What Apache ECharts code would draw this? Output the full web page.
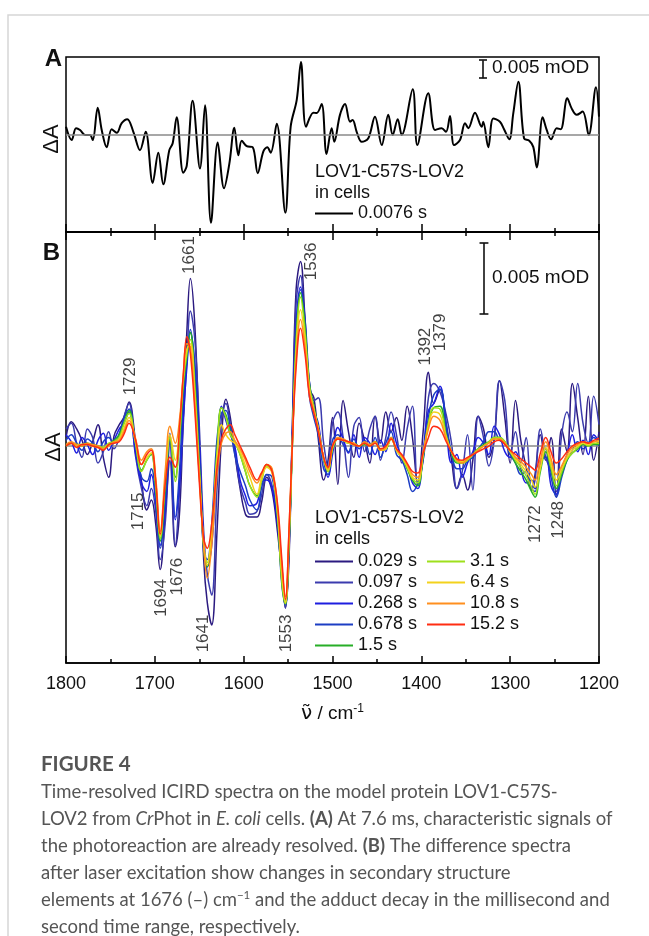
<!DOCTYPE html>
<html><head><meta charset="utf-8">
<script src="https://cdn.jsdelivr.net/npm/echarts@6/dist/echarts.min.js"></script>
<style>html,body{margin:0;padding:0;background:#fff}#c{width:649px;height:936px}</style>
</head><body><div id="c"></div>
<script>
// ---------- Panel A: 0.0076 s ----------
const wnA = [1800,1793.6,1788.7,1784.2,1778.6,1773,1769.9,1764.3,1759.8,1754.2,
1748.6,1742.9,1737.3,1731,1724.2,1716.7,1710.3,1702.4,1696.1,1690.5,
1683.7,1679.9,1675.4,1668,1664.1,1657.4,1649.2,1643.5,1636.8,1629.2,
1622.1,1616.2,1610.5,1606,1602.2,1596.6,1589.8,1584.2,1577.9,1573.4,
1569.6,1562.8,1553.1,1547.1,1540.3,1535.5,1529.8,1521.6,1517.8,1512.2,
1506.7,1500.9,1498,1491.6,1485.9,1480.3,1477.3,1472.8,1467.1,1459.7,
1452.2,1444.6,1437.2,1432.2,1426.6,1422.1,1409.7,1404.5,1392.2,1384.6,
1377.1,1372.2,1367.7,1363.2,1356.5,1350.8,1347.1,1339.6,1332,1330.3,
1324.6,1319,1311.5,1306.9,1301,1296.5,1290.8,1284.4,1278.5,1274,
1270.1,1263.4,1258.9,1254,1247.6,1243.1,1235.7,1230.8,1225.1,1218.4,
1211.6,1203.4,1200];
const dA = [2.3,-1.4,1.9,1.4,0,0,-1.4,7.6,1.4,-3.4,
1.6,0.6,3.3,4.4,0.9,-4.2,0.9,-13.3,-4.9,-13.7,
-4.2,-2.3,4.9,-10.5,-8.6,9.5,-9.3,8.3,-24.4,-2.1,
-14.8,-8.1,2,-5.6,-1.6,-3.1,-3.4,-10.6,-4.6,-3.4,
-4.9,3.1,-21.6,2.3,9.7,20.3,2.3,6.2,6.1,8.6,
-5.3,1.9,-1.9,5.6,8.6,3.7,4.2,0.9,-1.9,-0.9,
5.1,-2.8,5.6,0,4.4,0,12.7,-2.8,11.6,1.4,
1.9,0.9,5.3,-2.8,-1.4,3.3,1.9,6.2,2.3,3.7,
-3.4,4.6,3.7,1.6,-1.2,6,14.8,-0.9,-1.6,-3.3,
-9,4.9,1.4,-1.2,1.9,1.6,10.2,7.4,5.6,6.5,
0,13.3,5.1];

// ---------- Panel B: time series ----------
const wnB = [1800,1794,1788,1782,1776,1770,1764,1758,1752,1746,
1740,1735,1729,1722,1715,1709,1704,1699,1694,1688,
1683,1677,1672,1668,1664,1660,1655,1650,1645,1641,
1636,1630,1625,1620,1615,1610,1604,1598,1593,1585,
1580,1574,1568,1562,1557,1553,1549,1545,1541,1536,
1531,1526,1521,1516,1510,1505,1500,1494,1488,1482,
1476,1470,1464,1458,1452,1446,1440,1434,1428,1422,
1416,1410,1404,1398,1392,1386,1379,1372,1366,1360,
1354,1348,1342,1336,1330,1324,1318,1312,1306,1300,
1294,1288,1282,1276,1272,1266,1260,1254,1248,1242,
1236,1230,1224,1218,1212,1206,1200];

const t0029 = [0.6,1.7,1.2,0.4,-0.6,0.3,1.5,-0.8,-2.2,0.7,
1.5,2.0,3.1,0.5,-2.5,-4.5,-3.8,-5.5,-8.7,-4.5,
-1.0,-7.1,-4.5,2.0,8.0,11.8,8.5,0.5,-8.0,-11.0,
-12.6,-6.0,0.5,3.3,2.0,-0.5,-3.0,-4.8,-5.0,-5.0,
-4.0,-2.2,-3.2,-6.0,-9.0,-11.4,-8.0,2.0,11.0,13.0,
9.0,4.0,3.4,0.5,-2.4,-1.0,2.0,-2.7,3.2,1.0,
-0.8,1.6,0.4,-1.2,2.1,0.2,2.4,1.0,2.0,0.4,
2.8,0.6,-2.7,1.0,5.2,3.0,4.0,1.5,-1.0,-3.0,
-2.0,-3.1,-1.0,2.1,1.2,-0.8,0.5,4.6,2.0,-1.2,
3.2,0.4,-1.5,-3.1,-2.0,0.8,-1.0,0.6,-3.6,1.2,
-0.4,4.4,2.0,-0.6,3.5,-1.0,1.0];
const t0097 = [1.2,1.6,0.2,-0.8,1.2,0.6,-1.2,-0.4,1.0,-0.2,
0.6,2.0,3.0,-0.6,-3.0,-4.2,-3.0,-4.6,-8.0,-5.2,
0.4,-7.0,-3.0,1.5,6.0,9.5,7.5,1.5,-6.0,-9.0,
-10.5,-3.0,2.0,3.0,1.5,-0.4,-2.8,-4.0,-4.8,-4.6,
-3.5,-2.0,-2.8,-5.0,-8.5,-11.4,-7.5,1.5,10.0,12.0,
8.0,4.5,3.2,3.4,0.2,-1.5,1.6,2.4,0.6,-2.2,
1.4,2.0,-0.4,1.2,2.1,-1.0,0.6,2.4,0.8,-1.2,
1.2,2.8,-2.7,-1.0,3.4,4.4,3.8,2.2,0.2,-3.0,
-1.8,0.8,-3.1,2.1,0.6,-1.4,0.4,4.6,3.2,-0.6,
1.0,-1.2,0.6,-3.1,-2.4,1.2,-0.8,-1.8,-3.2,0.8,
2.4,1.0,4.4,1.6,0.2,3.5,1.5];
const t0268 = [0.8,0.3,-0.5,0.6,0.1,-0.6,0.4,0.9,-0.3,0.4,
1.2,1.6,2.4,-0.4,-2.6,-3.2,-2.0,-4.0,-7.0,-4.2,
0.6,-5.2,-2.5,2.0,5.5,8.0,5.8,0.5,-6.8,-8.5,
-7.0,-1.5,2.8,1.8,0.8,0.0,-2.4,-3.5,-4.2,-4.0,
-2.6,-2.4,-3.0,-5.5,-9.0,-11.0,-7.0,1.0,8.5,11.2,
9.0,4.5,2.5,1.6,-1.0,-2.2,-0.6,1.3,0.5,-0.5,
0.8,-0.8,0.6,0.2,-0.6,0.4,-0.4,1.6,0.2,-0.8,
-1.4,-2.6,-3.0,-0.4,2.5,3.0,4.2,1.2,-1.2,-0.6,
-2.2,-1.2,-0.4,0.6,0.2,-0.6,1.4,0.8,-0.4,-0.8,
-0.4,-1.6,-2.6,-2.4,-3.0,-1.4,-0.2,-2.8,-3.4,-1.6,
-0.6,0.8,-0.4,0.4,-0.6,0.8,0.3];
const t0678 = [0.4,0.8,0.2,-0.3,0.5,0.2,-0.4,0.3,0.6,0.2,
0.9,1.9,2.6,0.2,-2.2,-2.5,-1.6,-3.5,-7.2,-3.5,
0.9,-5.0,-1.5,3.5,6.0,8.2,5.5,-0.5,-7.5,-8.0,
-5.5,0.5,2.3,2.5,1.2,-0.6,-1.8,-2.8,-3.8,-4.5,
-3.0,-2.0,-2.2,-5.0,-9.8,-11.2,-6.8,0.8,8.0,11.0,
8.6,3.5,2.0,0.8,-1.6,-2.0,0.4,0.8,0.1,-0.4,
0.5,-0.2,0.4,-0.6,0.6,-0.8,0.2,1.0,-0.6,-1.0,
-2.0,-3.2,-2.6,-1.0,2.0,3.6,4.0,1.6,-0.5,-1.6,
-1.6,-1.0,-0.8,-0.2,0.3,1.0,1.0,0.4,0.2,-0.6,
-1.2,-2.0,-1.8,-3.0,-3.2,-1.0,-0.8,-2.2,-3.6,-2.2,
-1.0,-0.3,0.3,-0.2,0.2,0.6,0.0];
const t15 = [0,0.2,0.1,0,0.2,0.1,0,-0.2,0.1,0.4,
0.8,1.6,2.5,0.3,-1.7,-1.0,-0.6,-3.0,-6.7,-2.8,
0.6,-2.2,0.5,4.2,6.3,8.0,4.5,-1.2,-7.2,-8.5,
-6.2,-0.3,2.7,2.2,1.0,0.3,-0.6,-1.8,-2.8,-3.5,
-2.4,-1.3,-1.7,-4.8,-9.6,-11.1,-7.0,0.3,7.5,10.8,
8.5,4.4,2.8,1.3,-0.9,-1.8,-0.3,0.5,0.4,0.2,
0.2,0,0.1,0.1,0.3,-0.2,-0.2,0.6,-0.3,-0.8,
-1.6,-2.4,-2.8,-0.8,1.6,2.7,2.8,0.8,-0.5,-1.2,
-1.2,-1.0,-0.6,-0.2,0.1,0.3,0.6,0.6,0.3,-0.4,
-1.2,-1.8,-2.4,-3.2,-3.6,-1.8,-0.4,-1.6,-3.0,-2.0,
-1.0,-0.5,-0.2,0.1,0,0.1,0.1];
const t31 = [0.1,0.2,0.1,0.1,0.2,0,0,-0.1,0.2,0.3,
0.6,1.5,2.3,0.3,-1.8,-1.0,-0.5,-2.8,-6.5,-2.2,
0.6,-2.5,0.8,4.5,6.5,7.5,4.0,-1.5,-7.0,-8.2,
-6.0,-0.5,2.7,2.0,0.8,0.3,-0.6,-1.8,-2.8,-3.6,
-2.5,-1.4,-1.8,-4.8,-9.5,-11.1,-6.8,0.5,7.0,10.5,
8.0,4.2,2.6,1.2,-0.9,-1.8,-0.2,0.5,0.4,0.2,
0.1,0,0.2,0,0.3,-0.3,-0.2,0.5,-0.3,-0.8,
-1.5,-2.3,-2.6,-0.6,1.6,2.7,2.6,0.7,-0.4,-1.1,
-1.2,-1.0,-0.6,-0.2,0,0.3,0.6,0.6,0.3,-0.4,
-1.0,-1.5,-2.1,-2.9,-3.4,-1.6,-0.2,-1.5,-2.8,-1.8,
-0.9,-0.5,-0.1,0.2,0,0.2,0.2];
const t64 = [0,0.2,0,0.1,0.1,0,-0.1,-0.2,0.1,0.2,
0.5,1.2,2.0,0.4,-1.3,-0.8,-0.5,-2.5,-6.3,-2.0,
0.8,-1.0,1.5,4.8,6.8,7.2,3.5,-2.0,-6.8,-8.4,
-6.0,-1.0,1.5,0.8,0.4,0.2,-0.4,-1.4,-2.2,-3.4,
-2.3,-1.5,-1.9,-4.5,-9.0,-11.0,-6.5,0.5,6.5,9.6,
7.5,4.0,2.6,1.2,-0.8,-1.7,-0.1,0.5,0.4,0.2,
0.1,0,0.2,0,0.2,-0.3,-0.2,0.5,-0.3,-0.8,
-1.4,-2.2,-2.4,-0.6,1.4,2.4,2.2,0.6,-0.4,-1.0,
-1.1,-0.9,-0.6,-0.3,0,0.2,0.5,0.5,0.2,-0.4,
-0.9,-1.3,-1.8,-2.4,-2.9,-1.5,-0.1,-1.2,-2.4,-1.6,
-0.8,-0.3,0,0.2,0.1,0.3,0.3];
const t108 = [0.1,0.3,0.1,0,0.2,0.1,0,-0.2,0,0.3,
0.4,1.0,1.8,0.6,-1.0,-0.4,-0.2,-2.2,-6.0,-1.5,
1.4,0.2,2.0,5.0,7.2,7.0,3.0,-2.0,-7.0,-9.3,
-7.0,-2.0,0.2,0.9,1.0,0.4,-0.2,-1.0,-1.8,-2.6,
-2.0,-1.3,-1.6,-4.2,-8.5,-10.6,-6.0,0.5,6.0,8.9,
7.0,3.8,2.5,1.2,-0.8,-1.6,0,0.6,0.5,0.3,
0.2,0,0.3,0.1,0.3,-0.3,-0.1,0.6,-0.2,-0.7,
-1.3,-2.0,-2.2,-0.4,1.2,2.1,1.8,0.5,-0.4,-1.0,
-1.2,-0.9,-0.6,-0.3,0,0.2,0.5,0.5,0.2,-0.3,
-0.8,-1.1,-1.5,-2.0,-2.4,-1.0,0.3,-0.9,-2.0,-1.4,
-0.6,-0.1,0.1,0.3,0.2,0.3,0.4];
const t152 = [0,0.2,-0.1,0.1,0.1,0,-0.1,-0.3,0.1,0.2,
0.3,0.8,1.6,0.5,-1.3,-0.6,-0.3,-2.5,-6.2,-2.5,
-0.8,-1.5,1.5,5.0,7.7,6.5,2.5,-2.5,-6.5,-7.2,
-5.5,-1.5,0.5,1.2,1.5,0.8,0,-0.8,-1.5,-2.4,
-1.9,-1.3,-1.8,-4.0,-8.0,-10.8,-6.0,0.5,5.5,8.3,
6.5,3.5,2.3,1.0,-0.8,-1.5,0,0.5,0.4,0.3,
0.1,0,0.2,0,0.2,-0.2,0,0.5,-0.2,-0.6,
-1.2,-1.8,-1.9,-0.5,0.6,1.4,1.2,0.3,-0.4,-0.9,
-1.0,-0.8,-0.6,-0.4,-0.2,0,0.3,0.4,0.1,-0.3,
-0.6,-0.9,-1.2,-1.5,-1.7,-0.5,0.6,-0.4,-1.2,-0.9,
-0.4,0,0.2,0.3,0.2,0.4,0.55];

const namesB = ['0.029 s','0.097 s','0.268 s','0.678 s','1.5 s','3.1 s','6.4 s','10.8 s','15.2 s'];
const valuesB = [t0029,t0097,t0268,t0678,t15,t31,t64,t108,t152];
const colorsB = ['#2b1a80','#3b3bae','#1e1ee0','#1c3ec4','#27ae27','#9ee01c','#f3d21c','#ff8f1f','#ff2d12'];

// peak annotations (panel B)
const peakLabels = ['1729','1715','1694','1676','1661','1641','1553','1536','1392','1379','1272','1248'];
const peakX = [1727.4,1718.6,1692.3,1674.3,1661.5,1645.4,1551.6,1523.7,1395.9,1379,1272,1245.8];
const peakY = [4.9,-4.6,-10.7,-9.2,13.45,-13.2,-13.2,13.0,7.0,8.0,-5.5,-5.2];

const xTickLabels = [1800,1700,1600,1500,1400,1300,1200];

const FF = '"Liberation Sans", Arial, sans-serif';
const CF = 'Lato, "Open Sans", sans-serif';
const CS = 18.5;
const pair = (xs, ys) => xs.map((x, i) => [x, ys[i]]);
const chart = echarts.init(document.getElementById('c'));

const tickStyle = {color:'#000', width:1.5};
function xAx(grid, pos, major, minor, labels) {
  return {
    gridIndex: grid, type: 'value', min: 1200, max: 1800, interval: 100, inverse: true, position: pos,
    axisLine: {show: true, onZero: false, lineStyle: {color:'#000', width:1.5}},
    axisTick: {show: true, inside: true, length: major, lineStyle: tickStyle},
    minorTick: {show: true, splitNumber: 2, length: minor, lineStyle: tickStyle},
    splitLine: {show: false}, minorSplitLine: {show: false},
    axisLabel: labels ? {show: true, fontSize: 18, color: '#111', fontFamily: FF, margin: 12,
      showMinLabel: true, showMaxLabel: true,
      formatter: v => xTickLabels.indexOf(v) >= 0 ? String(v) : ''} : {show: false}
  };
}

const baseline = {silent: true, symbol: 'none', label: {show: false},
  lineStyle: {color: '#8a8a8a', width: 1.5, type: 'solid'}, data: [{yAxis: 0}]};
function scaleBar(xc, y0, y1, hw) {
  return {silent: true, symbol: 'none', label: {show: false}, animation: false,
    lineStyle: {color: '#111', width: 1.6, type: 'solid'},
    data: [[{coord: [xc, y0]}, {coord: [xc, y1]}],
           [{coord: [xc + hw, y0]}, {coord: [xc - hw, y0]}],
           [{coord: [xc + hw, y1]}, {coord: [xc - hw, y1]}]]};
}

const series = [];
series.push({name: '0.0076 s', type: 'line', xAxisIndex: 0, yAxisIndex: 0, data: pair(wnA, dA),
  smooth: 0.35, symbol: 'none', lineStyle: {color: '#000', width: 2}, itemStyle: {color: '#000'},
  markLine: baseline, z: 3});
series.push({name: 'barA', type: 'line', xAxisIndex: 0, yAxisIndex: 0, data: [], symbol: 'none',
  markLine: scaleBar(1330.6, 15.8, 20.8, 4.5)});
series.push({name: 'barB', type: 'line', xAxisIndex: 2, yAxisIndex: 1, data: [], symbol: 'none',
  markLine: scaleBar(1329.5, 9.3, 14.3, 5)});
namesB.forEach((n, i) => series.push({
  name: n, type: 'line', xAxisIndex: 2, yAxisIndex: 1, data: pair(wnB, valuesB[i]),
  smooth: 0.4, symbol: 'none', lineStyle: {color: colorsB[i], width: 1.5}, itemStyle: {color: colorsB[i]},
  markLine: i === 0 ? baseline : undefined, z: 3 + i
}));
series.push({name: 'peaks', type: 'scatter', xAxisIndex: 2, yAxisIndex: 1, symbolSize: 0, silent: true,
  data: peakLabels.map((t, i) => ({value: [peakX[i], peakY[i]], name: t})),
  label: {show: true, position: 'inside', rotate: 90, formatter: p => p.name, fontSize: 17, color: '#111', fontFamily: FF},
  z: 20});

const legendText = {fontSize: 18, color: '#111', fontFamily: FF, lineHeight: 21};
function leg(names, left, top) {
  return {data: names, left: left, top: top, orient: 'vertical', padding: 0, itemGap: 0,
    itemWidth: 38, itemHeight: 2, icon: 'rect', textStyle: legendText, selectedMode: false};
}
const capRich = {
  i: {fontStyle: 'italic', fontSize: CS, fontFamily: CF, fill: '#555', color: '#555'},
  b: {fontWeight: 'bold', fontSize: CS, fontFamily: CF, fill: '#555', color: '#555'},
  sup: {fontSize: 11.5, fontFamily: CF, fill: '#555', color: '#555', verticalAlign: 'top', lineHeight: 22}
};
function cap(y, text) {
  return {type: 'text', x: 41, y: y, silent: true,
    style: {text: text, fontSize: CS, fontFamily: CF, fill: '#555', align: 'left', verticalAlign: 'middle',
      textAlign: 'left', textVerticalAlign: 'middle', rich: capRich}};
}
function txt(x, y, text, size, extra) {
  return {type: 'text', x: x, y: y, silent: true,
    style: Object.assign({text: text, fontSize: size, fontFamily: FF, fill: '#111', align: 'left', verticalAlign: 'middle',
      textAlign: 'left', textVerticalAlign: 'middle'}, extra || {})};
}

const option = {
  animation: false,
  backgroundColor: '#fff',
  grid: [
    {left: 66, top: 57, width: 533, height: 175, show: true, borderColor: '#000', borderWidth: 1.5, backgroundColor: 'transparent'},
    {left: 66, top: 232, width: 533, height: 431, show: true, borderColor: '#000', borderWidth: 1.5, backgroundColor: 'transparent'}
  ],
  xAxis: [xAx(0, 'bottom', 8, 4, false), xAx(1, 'top', 8, 4, false), Object.assign(xAx(1, 'bottom', 7, 4, true), {
    name: '{a|ν\u0303}{b| / cm}{s|-1}', nameLocation: 'middle', nameGap: 40,
    nameTextStyle: {fontFamily: FF, color: '#111', fontSize: 19,
      rich: {a: {fontSize: 20, fontFamily: '"DejaVu Sans", sans-serif', color: '#111', lineHeight: 22},
             b: {fontSize: 19, fontFamily: FF, color: '#111', lineHeight: 22},
             s: {fontSize: 12, fontFamily: FF, color: '#111', verticalAlign: 'top', lineHeight: 22}}}
  })],
  yAxis: [
    {gridIndex: 0, type: 'value', min: -26.94, max: 21.67, show: false},
    {gridIndex: 1, type: 'value', min: -15.28, max: 15.07, show: false}
  ],
  legend: [leg(['0.0076 s'], 315, 203), leg(namesB.slice(0, 5), 315, 551), leg(namesB.slice(5), 427, 551)],
  graphic: [
    {type: 'rect', shape: {x: 8, y: 15, width: 700, height: 1000}, style: {fill: 'none', stroke: '#d6d6d6', lineWidth: 1.5}, silent: true, z: -10},
    txt(62, 59, 'A', 24, {fontWeight: 'bold', align: 'right', textAlign: 'right'}),
    txt(60, 253, 'B', 24, {fontWeight: 'bold', align: 'right', textAlign: 'right'}),
    Object.assign(txt(52, 139, 'ΔA', 22, {align: 'center', textAlign: 'center'}), {rotation: Math.PI / 2}),
    Object.assign(txt(54, 447, 'ΔA', 22, {align: 'center', textAlign: 'center'}), {rotation: Math.PI / 2}),
    txt(492, 68, '0.005 mOD', 19),
    txt(492, 278, '0.005 mOD', 19),
    txt(315, 172, 'LOV1-C57S-LOV2', 18),
    txt(315, 193, 'in cells', 18),
    txt(315, 518, 'LOV1-C57S-LOV2', 18),
    txt(315, 539, 'in cells', 18),
    {type: 'text', x: 41, y: 764, silent: true, style: {text: 'FIGURE 4', fontSize: 20.5, fontFamily: CF, fontWeight: 'bold', fill: '#555', align: 'left', verticalAlign: 'middle', textAlign: 'left', textVerticalAlign: 'middle'}},
    cap(792, 'Time-resolved ICIRD spectra on the model protein LOV1-C57S-'),
    cap(819, 'LOV2 from {i|Cr}Phot in {i|E. coli} cells. {b|(A)} At 7.6 ms, characteristic signals of'),
    cap(846, 'the photoreaction are already resolved. {b|(B)} The difference spectra'),
    cap(873, 'after laser excitation show changes in secondary structure'),
    cap(900, 'elements at 1676 (–) cm{sup|−1} and the adduct decay in the millisecond and'),
    cap(927, 'second time range, respectively.')
  ],
  series: series
};
chart.setOption(option);
</script>
</body></html>
